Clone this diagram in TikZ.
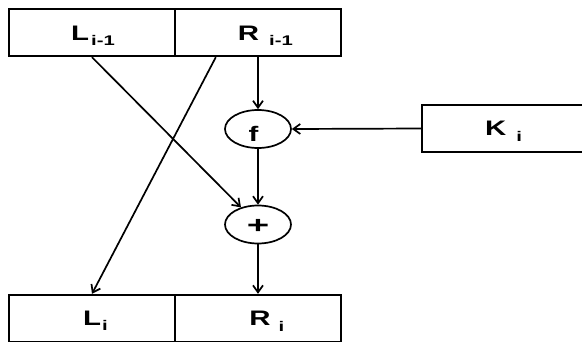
\documentclass[tikz,border=0pt]{standalone}
\usepackage{fontspec}
\setmainfont{Liberation Sans}
\usetikzlibrary{arrows.meta,shapes.geometric}
\newcommand{\mainlab}[1]{\scalebox{1.4}[1]{\fontsize{21}{21}\selectfont\bfseries #1}}
\newcommand{\sublab}[2][5pt]{\raisebox{-#1}{\scalebox{1.45}[1]{\fontsize{14}{14}\selectfont\bfseries #2}}}
\begin{document}
\begin{tikzpicture}[x=1pt,y=-1pt,
  box/.style={draw,line width=2.4pt,inner sep=0pt,minimum width=166pt,minimum height=47pt,text height=15pt,text depth=0pt},
  circ/.style={draw,ellipse,line width=1.7pt,inner sep=0pt,minimum width=66pt,minimum height=38pt,text depth=0pt},
  arr/.style={line width=1.7pt,-{Straight Barb[length=7pt,width=10pt]}}]
\useasboundingbox (0,0) rectangle (582,341);
\clip (0,0) rectangle (582,341);
\node[box] (Lp) at (92,32.5) {\kern2pt\mainlab{L}\kern2pt\sublab{i-1}};
\node[box] (Rp) at (258,32.5) {\kern14.7pt\mainlab{R}\kern10pt\sublab{i-1}};
\node[box,text height=13pt] (K) at (505,128.5) {\mainlab{K}\kern10pt\sublab[6pt]{i}\kern3pt};
\node[circ,text height=24pt] (f) at (258,129) {\mainlab{f}\kern9pt};
\node[circ,text height=18.8pt] (plus) at (258,224.5) {\scalebox{1.6}[1]{\fontsize{24}{24}\selectfont\bfseries +}};
\node[box,text height=13pt] (L) at (92,318.5) {\kern7pt\mainlab{L}\kern1pt\sublab[5.5pt]{i}};
\node[box,text height=13pt] (R) at (258,318.5) {\kern17.5pt\mainlab{R}\kern8pt\sublab[6.5pt]{i}};
\draw[arr] (Rp.south) -- (f.north);
\draw[arr] (K.west) -- (f.east);
\draw[arr] (f.south) -- (plus.north);
\draw[arr] (Lp.south) -- (plus);
\draw[arr] ([xshift=42pt]Rp.south west) -- (L.north);
\draw[arr] (plus.south) -- (R.north);
\end{tikzpicture}
\end{document}
